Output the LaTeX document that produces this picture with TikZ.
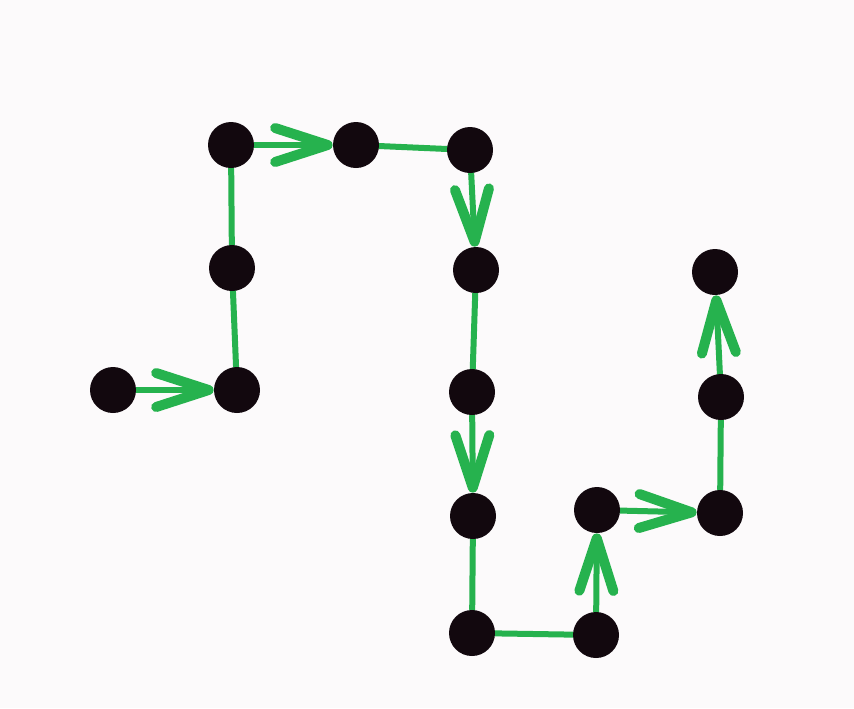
\documentclass[tikz,border=0pt]{standalone}
\usetikzlibrary{arrows.meta,backgrounds}
\definecolor{pen}{RGB}{38,178,78}
\definecolor{ink}{RGB}{18,8,14}
\definecolor{paper}{RGB}{252,250,251}
\begin{document}
\begin{tikzpicture}[x=0.02cm,y=-0.02cm,
  dot/.style={circle,fill=ink,draw=none,inner sep=0pt,minimum size=0.92cm},
  link/.style={draw=pen,line width=0.12cm,line cap=round},
  arr/.style={link,-{Straight Barb[length=1.05cm,width=0.68cm,line width=0.2cm,round]}}]
\useasboundingbox (0,0) rectangle (854,708);
\node[dot] (A) at (113,390) {};
\node[dot] (B) at (237,390) {};
\node[dot] (C) at (232,268) {};
\node[dot] (D) at (231,145) {};
\node[dot] (E) at (356,145) {};
\node[dot] (F) at (470,150) {};
\node[dot] (G) at (476,270) {};
\node[dot] (H) at (472,392) {};
\node[dot] (I) at (473,516) {};
\node[dot] (J) at (472,633) {};
\node[dot] (K) at (596,635) {};
\node[dot] (L) at (597,510) {};
\node[dot] (M) at (720,513) {};
\node[dot] (N) at (721,397) {};
\node[dot] (O) at (715,272) {};
\begin{scope}[on background layer]
\fill[paper] (0,0) rectangle (854,708);
\draw[arr] (A) -- (B);
\draw[link] (B) -- (C);
\draw[link] (C) -- (D);
\draw[arr] (D) -- (E);
\draw[link] (E) -- (F);
\draw[arr] (F) -- (G);
\draw[link] (G) -- (H);
\draw[arr] (H) -- (I);
\draw[link] (I) -- (J);
\draw[link] (J) -- (K);
\draw[arr] (K) -- (L);
\draw[arr] (L) -- (M);
\draw[link] (M) -- (N);
\draw[arr] (N) -- (O);
\end{scope}
\end{tikzpicture}
\end{document}
